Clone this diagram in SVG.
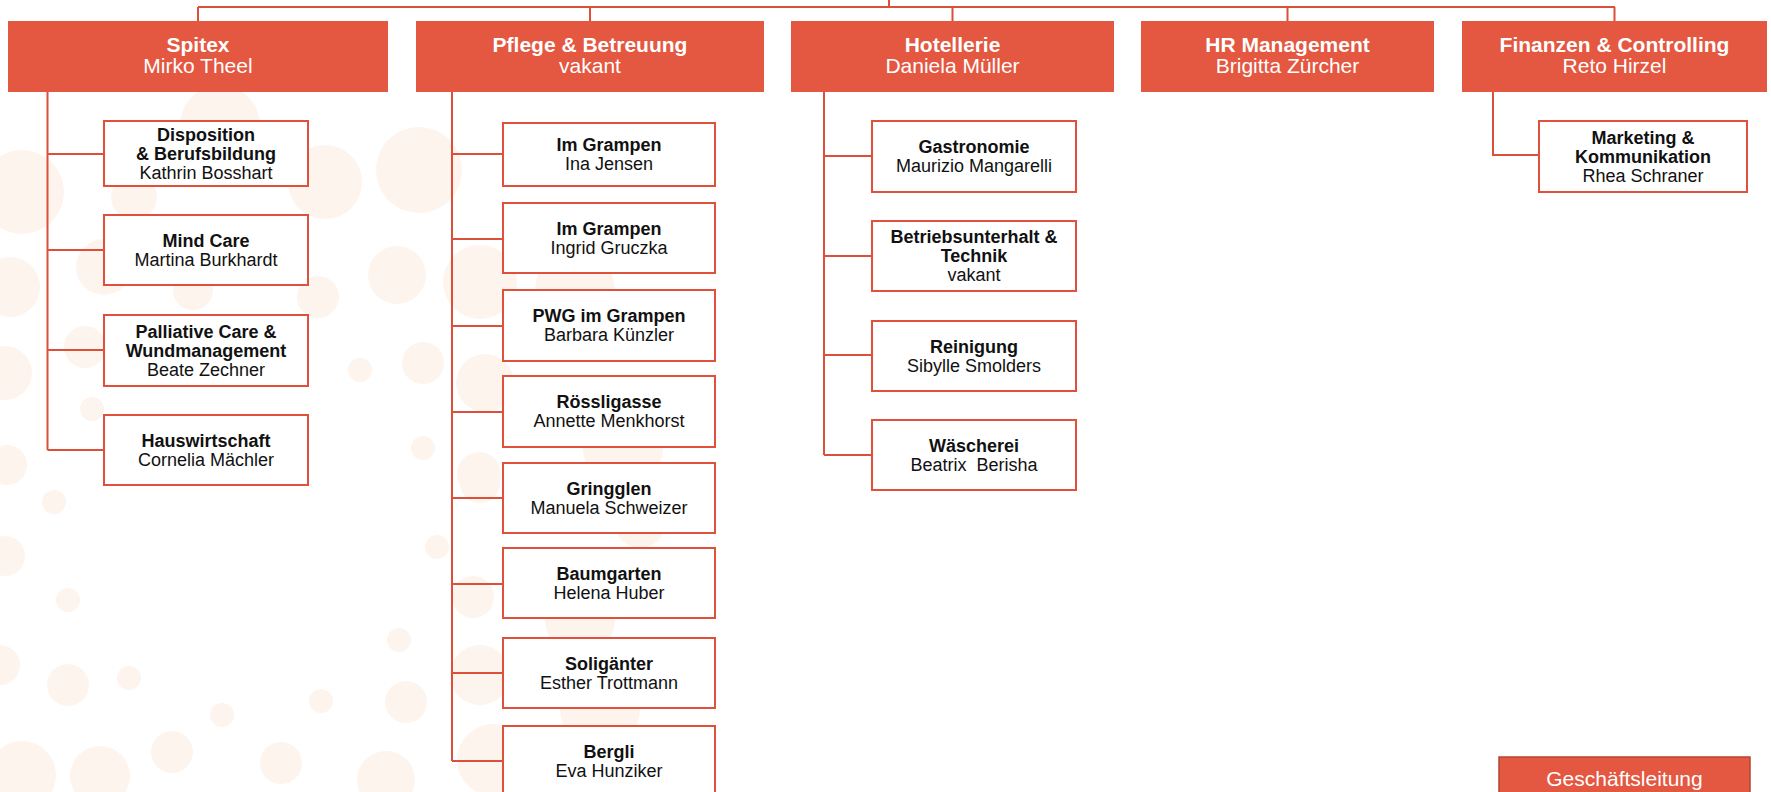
<svg xmlns="http://www.w3.org/2000/svg" width="1771" height="792" viewBox="0 0 1771 792">
<style>
.bg{fill:#FEF4EE}
.head{fill:#E45740}
.sub{fill:#FFFFFF;stroke:#E0503A;stroke-width:2}
.con{fill:none;stroke:#DC4F39;stroke-width:2}
text{font-family:"Liberation Sans",Arial,sans-serif;text-anchor:middle}
.h1{font-size:21px;font-weight:bold;fill:#FFFFFF}
.h2{font-size:21px;fill:#FFFFFF}
.b{font-size:18px;font-weight:bold;fill:#111111}
.n{font-size:18px;fill:#111111}
</style>
<rect width="1771" height="792" fill="#FFFFFF"/>
<g id="bubbles">
<circle class="bg" cx="220" cy="125" r="40"/>
<circle class="bg" cx="134" cy="197" r="23"/>
<circle class="bg" cx="325" cy="182" r="37"/>
<circle class="bg" cx="419" cy="170" r="43"/>
<circle class="bg" cx="22" cy="192" r="42"/>
<circle class="bg" cx="250" cy="240" r="25"/>
<circle class="bg" cx="10" cy="287" r="30"/>
<circle class="bg" cx="104" cy="267" r="28"/>
<circle class="bg" cx="193" cy="290" r="20"/>
<circle class="bg" cx="318" cy="297" r="21"/>
<circle class="bg" cx="397" cy="275" r="29"/>
<circle class="bg" cx="480" cy="282" r="37"/>
<circle class="bg" cx="85" cy="347" r="21"/>
<circle class="bg" cx="5" cy="373" r="27"/>
<circle class="bg" cx="360" cy="370" r="12"/>
<circle class="bg" cx="423" cy="363" r="21"/>
<circle class="bg" cx="485" cy="383" r="29"/>
<circle class="bg" cx="575" cy="290" r="40"/>
<circle class="bg" cx="92" cy="409" r="12"/>
<circle class="bg" cx="423" cy="448" r="12"/>
<circle class="bg" cx="479" cy="474" r="22"/>
<circle class="bg" cx="623" cy="448" r="40"/>
<circle class="bg" cx="7" cy="465" r="20"/>
<circle class="bg" cx="54" cy="502" r="12"/>
<circle class="bg" cx="480" cy="483" r="20"/>
<circle class="bg" cx="5" cy="556" r="20"/>
<circle class="bg" cx="437" cy="547" r="12"/>
<circle class="bg" cx="640" cy="523" r="25"/>
<circle class="bg" cx="473" cy="597" r="21"/>
<circle class="bg" cx="580" cy="620" r="35"/>
<circle class="bg" cx="68" cy="600" r="12"/>
<circle class="bg" cx="399" cy="640" r="12"/>
<circle class="bg" cx="0" cy="665" r="20"/>
<circle class="bg" cx="68" cy="685" r="21"/>
<circle class="bg" cx="129" cy="678" r="12"/>
<circle class="bg" cx="480" cy="675" r="30"/>
<circle class="bg" cx="600" cy="710" r="40"/>
<circle class="bg" cx="222" cy="715" r="12"/>
<circle class="bg" cx="321" cy="701" r="12"/>
<circle class="bg" cx="406" cy="702" r="21"/>
<circle class="bg" cx="172" cy="752" r="21"/>
<circle class="bg" cx="22" cy="775" r="34"/>
<circle class="bg" cx="100" cy="776" r="30"/>
<circle class="bg" cx="281" cy="763" r="21"/>
<circle class="bg" cx="386" cy="780" r="29"/>
<circle class="bg" cx="493" cy="760" r="36"/>
</g>
<g id="connectors">
<path class="con" d="M889 0V7M198 7H1615M198 7V21M590 7V21M952.5 7V21M1287.5 7V21M1614.5 7V21"/>
<path class="con" d="M47.5 92V450M47.5 154H104M47.5 250H104M47.5 350H104M47.5 450H104"/>
<path class="con" d="M452 92V761M452 154H503M452 239H503M452 326H503M452 412H503M452 498H503M452 584H503M452 673H503M452 761H503"/>
<path class="con" d="M824 92V455M824 156H872M824 256H872M824 355H872M824 455H872"/>
<path class="con" d="M1493 92V155H1539"/>
</g>
<g id="spitex">
<rect class="head" x="8" y="21" width="380" height="71"/>
<text class="h1" x="198" y="52">Spitex</text>
<text class="h2" x="198" y="73">Mirko Theel</text>
</g>
<g id="pflege">
<rect class="head" x="416" y="21" width="348" height="71"/>
<text class="h1" x="590" y="52">Pflege &amp; Betreuung</text>
<text class="h2" x="590" y="73">vakant</text>
</g>
<g id="hotellerie">
<rect class="head" x="791" y="21" width="323" height="71"/>
<text class="h1" x="952.5" y="52">Hotellerie</text>
<text class="h2" x="952.5" y="73">Daniela Müller</text>
</g>
<g id="hr">
<rect class="head" x="1141" y="21" width="293" height="71"/>
<text class="h1" x="1287.5" y="52">HR Management</text>
<text class="h2" x="1287.5" y="73">Brigitta Zürcher</text>
</g>
<g id="finanzen">
<rect class="head" x="1462" y="21" width="305" height="71"/>
<text class="h1" x="1614.5" y="52">Finanzen &amp; Controlling</text>
<text class="h2" x="1614.5" y="73">Reto Hirzel</text>
</g>
<g id="disposition">
<rect class="sub" x="104" y="121" width="204" height="65"/>
<text class="b" x="206" y="140.5">Disposition</text>
<text class="b" x="206" y="159.5">&amp; Berufsbildung</text>
<text class="n" x="206" y="178.5">Kathrin Bosshart</text>
</g>
<g id="mindcare">
<rect class="sub" x="104" y="215" width="204" height="70"/>
<text class="b" x="206" y="246.5">Mind Care</text>
<text class="n" x="206" y="265.5">Martina Burkhardt</text>
</g>
<g id="palliative">
<rect class="sub" x="104" y="315" width="204" height="71"/>
<text class="b" x="206" y="337.5">Palliative Care &amp;</text>
<text class="b" x="206" y="356.5">Wundmanagement</text>
<text class="n" x="206" y="375.5">Beate Zechner</text>
</g>
<g id="hauswirtschaft">
<rect class="sub" x="104" y="415" width="204" height="70"/>
<text class="b" x="206" y="446.5">Hauswirtschaft</text>
<text class="n" x="206" y="465.5">Cornelia Mächler</text>
</g>
<g id="imgrampen1">
<rect class="sub" x="503" y="123" width="212" height="63"/>
<text class="b" x="609" y="151">Im Grampen</text>
<text class="n" x="609" y="170">Ina Jensen</text>
</g>
<g id="imgrampen2">
<rect class="sub" x="503" y="203" width="212" height="70"/>
<text class="b" x="609" y="234.5">Im Grampen</text>
<text class="n" x="609" y="253.5">Ingrid Gruczka</text>
</g>
<g id="pwg">
<rect class="sub" x="503" y="290" width="212" height="71"/>
<text class="b" x="609" y="322">PWG im Grampen</text>
<text class="n" x="609" y="341">Barbara Künzler</text>
</g>
<g id="roessligasse">
<rect class="sub" x="503" y="376" width="212" height="71"/>
<text class="b" x="609" y="408">Rössligasse</text>
<text class="n" x="609" y="427">Annette Menkhorst</text>
</g>
<g id="gringglen">
<rect class="sub" x="503" y="463" width="212" height="70"/>
<text class="b" x="609" y="494.5">Gringglen</text>
<text class="n" x="609" y="513.5">Manuela Schweizer</text>
</g>
<g id="baumgarten">
<rect class="sub" x="503" y="548" width="212" height="70"/>
<text class="b" x="609" y="579.5">Baumgarten</text>
<text class="n" x="609" y="598.5">Helena Huber</text>
</g>
<g id="soliganter">
<rect class="sub" x="503" y="638" width="212" height="70"/>
<text class="b" x="609" y="669.5">Soligänter</text>
<text class="n" x="609" y="688.5">Esther Trottmann</text>
</g>
<g id="bergli">
<rect class="sub" x="503" y="726" width="212" height="70"/>
<text class="b" x="609" y="757.5">Bergli</text>
<text class="n" x="609" y="776.5">Eva Hunziker</text>
</g>
<g id="gastronomie">
<rect class="sub" x="872" y="121" width="204" height="71"/>
<text class="b" x="974" y="153">Gastronomie</text>
<text class="n" x="974" y="172">Maurizio Mangarelli</text>
</g>
<g id="betriebsunterhalt">
<rect class="sub" x="872" y="221" width="204" height="70"/>
<text class="b" x="974" y="243">Betriebsunterhalt &amp;</text>
<text class="b" x="974" y="262">Technik</text>
<text class="n" x="974" y="281">vakant</text>
</g>
<g id="reinigung">
<rect class="sub" x="872" y="321" width="204" height="70"/>
<text class="b" x="974" y="352.5">Reinigung</text>
<text class="n" x="974" y="371.5">Sibylle Smolders</text>
</g>
<g id="waescherei">
<rect class="sub" x="872" y="420" width="204" height="70"/>
<text class="b" x="974" y="451.5">Wäscherei</text>
<text class="n" x="974" y="470.5" xml:space="preserve">Beatrix  Berisha</text>
</g>
<g id="marketing">
<rect class="sub" x="1539" y="121" width="208" height="71"/>
<text class="b" x="1643" y="143.5">Marketing &amp;</text>
<text class="b" x="1643" y="162.5">Kommunikation</text>
<text class="n" x="1643" y="181.5">Rhea Schraner</text>
</g>
<g id="geschaeftsleitung">
<rect x="1499" y="757" width="251" height="60" fill="#E45740" stroke="#B8442F" stroke-width="1.5"/>
<text class="h2" x="1624.5" y="786">Geschäftsleitung</text>
</g>
</svg>
